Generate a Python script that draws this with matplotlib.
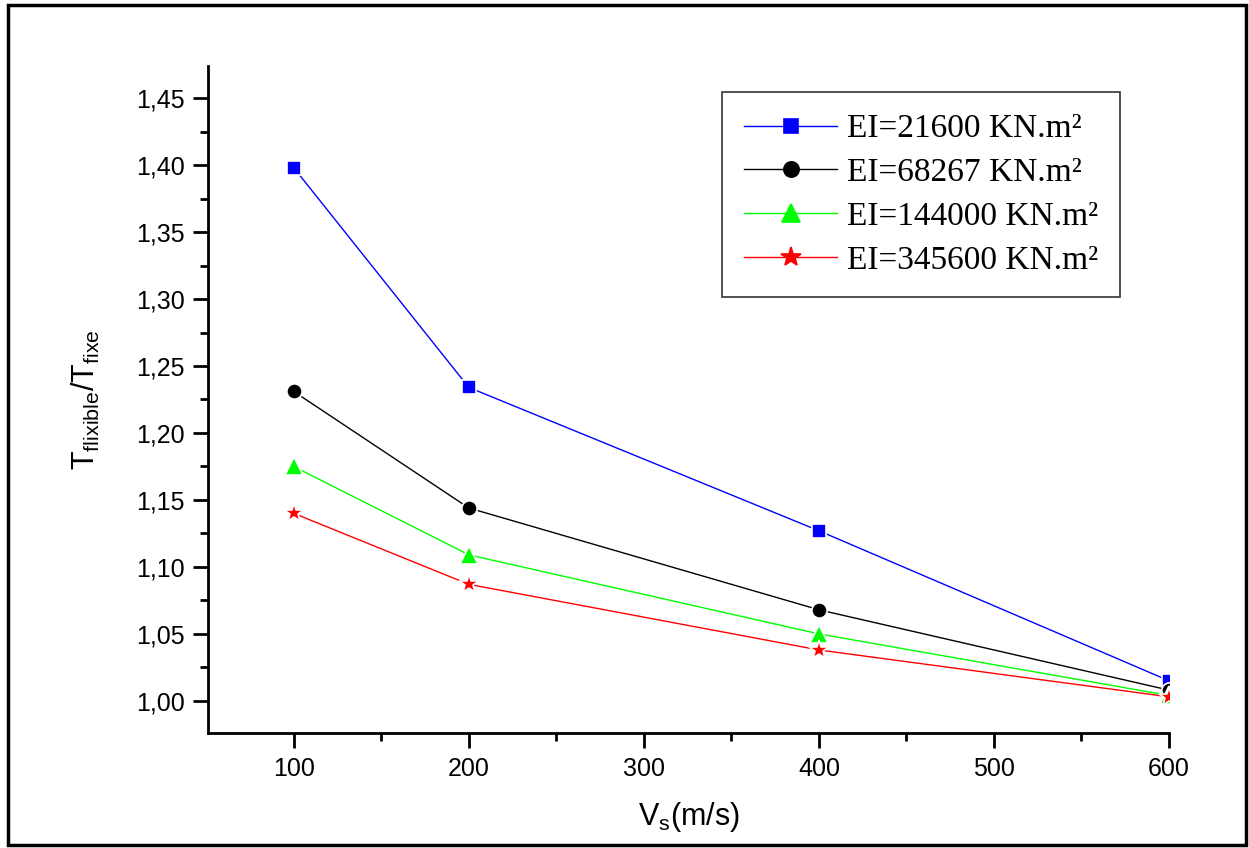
import matplotlib.pyplot as plt
from matplotlib.patches import Rectangle
from matplotlib.ticker import MultipleLocator, FuncFormatter

plt.rcParams['font.family'] = 'Liberation Sans'
plt.rcParams['mathtext.fontset'] = 'custom'
plt.rcParams['mathtext.rm'] = 'Liberation Sans'
plt.rcParams['mathtext.it'] = 'Liberation Sans'

vs = [100, 200, 400, 600]
ei_21600 = [1.398, 1.234, 1.127, 1.015]
ei_68267 = [1.231, 1.144, 1.068, 1.008]
ei_144000 = [1.175, 1.109, 1.050, 1.004]
ei_345600 = [1.140, 1.087, 1.038, 1.003]
labels = ['EI=21600 KN.m²', 'EI=68267 KN.m²', 'EI=144000 KN.m²', 'EI=345600 KN.m²']

fig = plt.figure(figsize=(12.49, 8.48), dpi=100)
ax = fig.add_axes([208/1249, 1 - 733/848, (1169 - 208)/1249, (733 - 66)/848])

series = [
    (ei_21600, 'blue', 's', 10),
    (ei_68267, 'black', 'o', 11),
    (ei_144000, '#00ff00', '^', 13),
    (ei_345600, 'red', '*', 15),
]
for (vals, col, mk, ms), lab in zip(series, labels):
    ax.plot(vs, vals, color=col, marker=mk, markersize=ms, lw=1,
            mec='white', mew=1.2, mfc=col, label=lab)

leg = ax.legend(loc='upper right', bbox_to_anchor=(0.949, 0.961), borderaxespad=0,
                prop={'family': 'Liberation Serif', 'size': 24},
                frameon=True, fancybox=False, edgecolor='black',
                handlelength=2.8, borderpad=0.65, labelspacing=0.4,
                handletextpad=0.3)
leg.get_frame().set_linewidth(1.2)
for h in leg.legend_handles:
    h.set_markeredgecolor(h.get_color())

ax.set_xlim(51, 600)
ax.set_ylim(0.976, 1.474)
ax.xaxis.set_major_locator(MultipleLocator(100))
ax.xaxis.set_minor_locator(MultipleLocator(50))
ax.yaxis.set_major_locator(MultipleLocator(0.05))
ax.yaxis.set_minor_locator(MultipleLocator(0.025))
ax.yaxis.set_major_formatter(FuncFormatter(lambda v, p: f'{v:.2f}'.replace('.', ',')))

for s in ['top', 'right']:
    ax.spines[s].set_visible(False)
for s in ['left', 'bottom']:
    ax.spines[s].set_linewidth(2)
ax.tick_params(which='major', direction='out', length=11, width=2, labelsize=18, pad=6)
ax.tick_params(which='minor', direction='out', length=6, width=2)

ax.set_xlabel(r'$\mathregular{V_s(m/s)}$', fontsize=22, labelpad=14)
ax.set_ylabel(r'$\mathregular{T_{flixible}/T_{fixe}}$', fontsize=22, labelpad=24)

fig.patches.append(Rectangle((8/1249, 3/848), 1238/1249, 840/848, transform=fig.transFigure,
                             fill=False, edgecolor='black', linewidth=2.5))

fig.savefig('out.png', dpi=100)
